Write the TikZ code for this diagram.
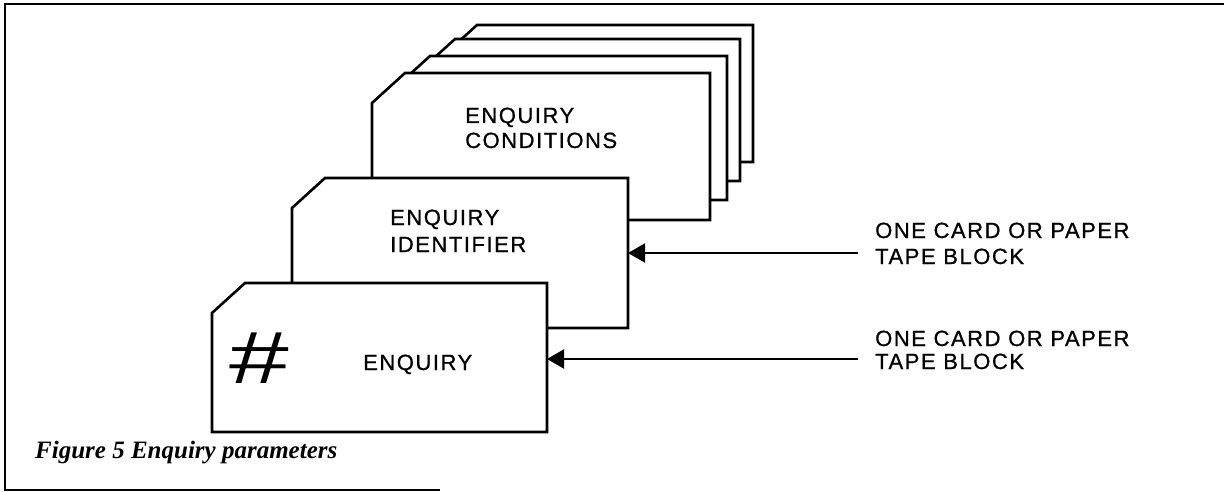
\documentclass[tikz,border=0pt]{standalone}
\usepackage{fontspec}
\setmainfont{Liberation Sans}[LetterSpace=7, FakeBold=0.8]
\newfontfamily\capfont{Liberation Serif}
\newfontfamily\hashfont{Liberation Sans}
\usetikzlibrary{arrows.meta}
\tikzset{
  cardline/.style={draw=black, fill=white, line width=2.6pt, line join=miter},
  frameline/.style={draw=black, line width=2.8pt},
  lbl/.style={inner sep=0pt, anchor=base west, font=\fontsize{22}{26}\selectfont},
  arr/.style={draw=black, line width=2pt, -{Triangle[length=17pt,width=19pt]}},
}
\newcommand\enqcard[4]{%
  \path[cardline] (#1,#2+30) -- (#1+33,#2) -- (#3,#2) -- (#3,#4) -- (#1,#4) -- cycle;}
\begin{document}
\begin{tikzpicture}[x=1pt,y=-1pt]
\useasboundingbox (0,0) rectangle (1224,492);
% frame
\draw[frameline] (1224,4) -- (5,4) -- (5,490) -- (440,490);
% rear cards (back to front)
\enqcard{444}{25}{753}{162}
\enqcard{422}{39}{740}{181}
\enqcard{397}{56}{727}{200}
\enqcard{372}{73}{710}{220}
\node[lbl] (c3a) at (465,123) {ENQUIRY};
\node[lbl] (c3b) at (465,148) {CONDITIONS};
\enqcard{292}{178}{628}{328}
\node[lbl] (c2a) at (390,225) {ENQUIRY};
\node[lbl] (c2b) at (390,252) {IDENTIFIER};
\coordinate (c2e) at (628,253);
\enqcard{212}{283}{547}{432}
\node[lbl] (c1a) at (363,370) {ENQUIRY};
\node[inner sep=0pt] (hash) at (259,358) {\scalebox{1.45}[1]{\hashfont\fontsize{74}{80}\selectfont\#}};
\coordinate (c1e) at (547,359);
% labels and arrows
\node[lbl] (l1a) at (875,238) {ONE CARD OR PAPER};
\node[lbl] (l1b) at (875,264) {TAPE BLOCK};
\coordinate (a1) at (858,253);
\draw[arr] (a1) -- (c2e);
\node[lbl] (l2a) at (875,346) {ONE CARD OR PAPER};
\node[lbl] (l2b) at (875,369) {TAPE BLOCK};
\coordinate (a2) at (858,359);
\draw[arr] (a2) -- (c1e);
% caption
\node[inner sep=0pt, anchor=base west] (cap) at (35,458) {\capfont\bfseries\itshape\fontsize{25}{28}\selectfont Figure 5 Enquiry parameters};
\end{tikzpicture}
\end{document}
